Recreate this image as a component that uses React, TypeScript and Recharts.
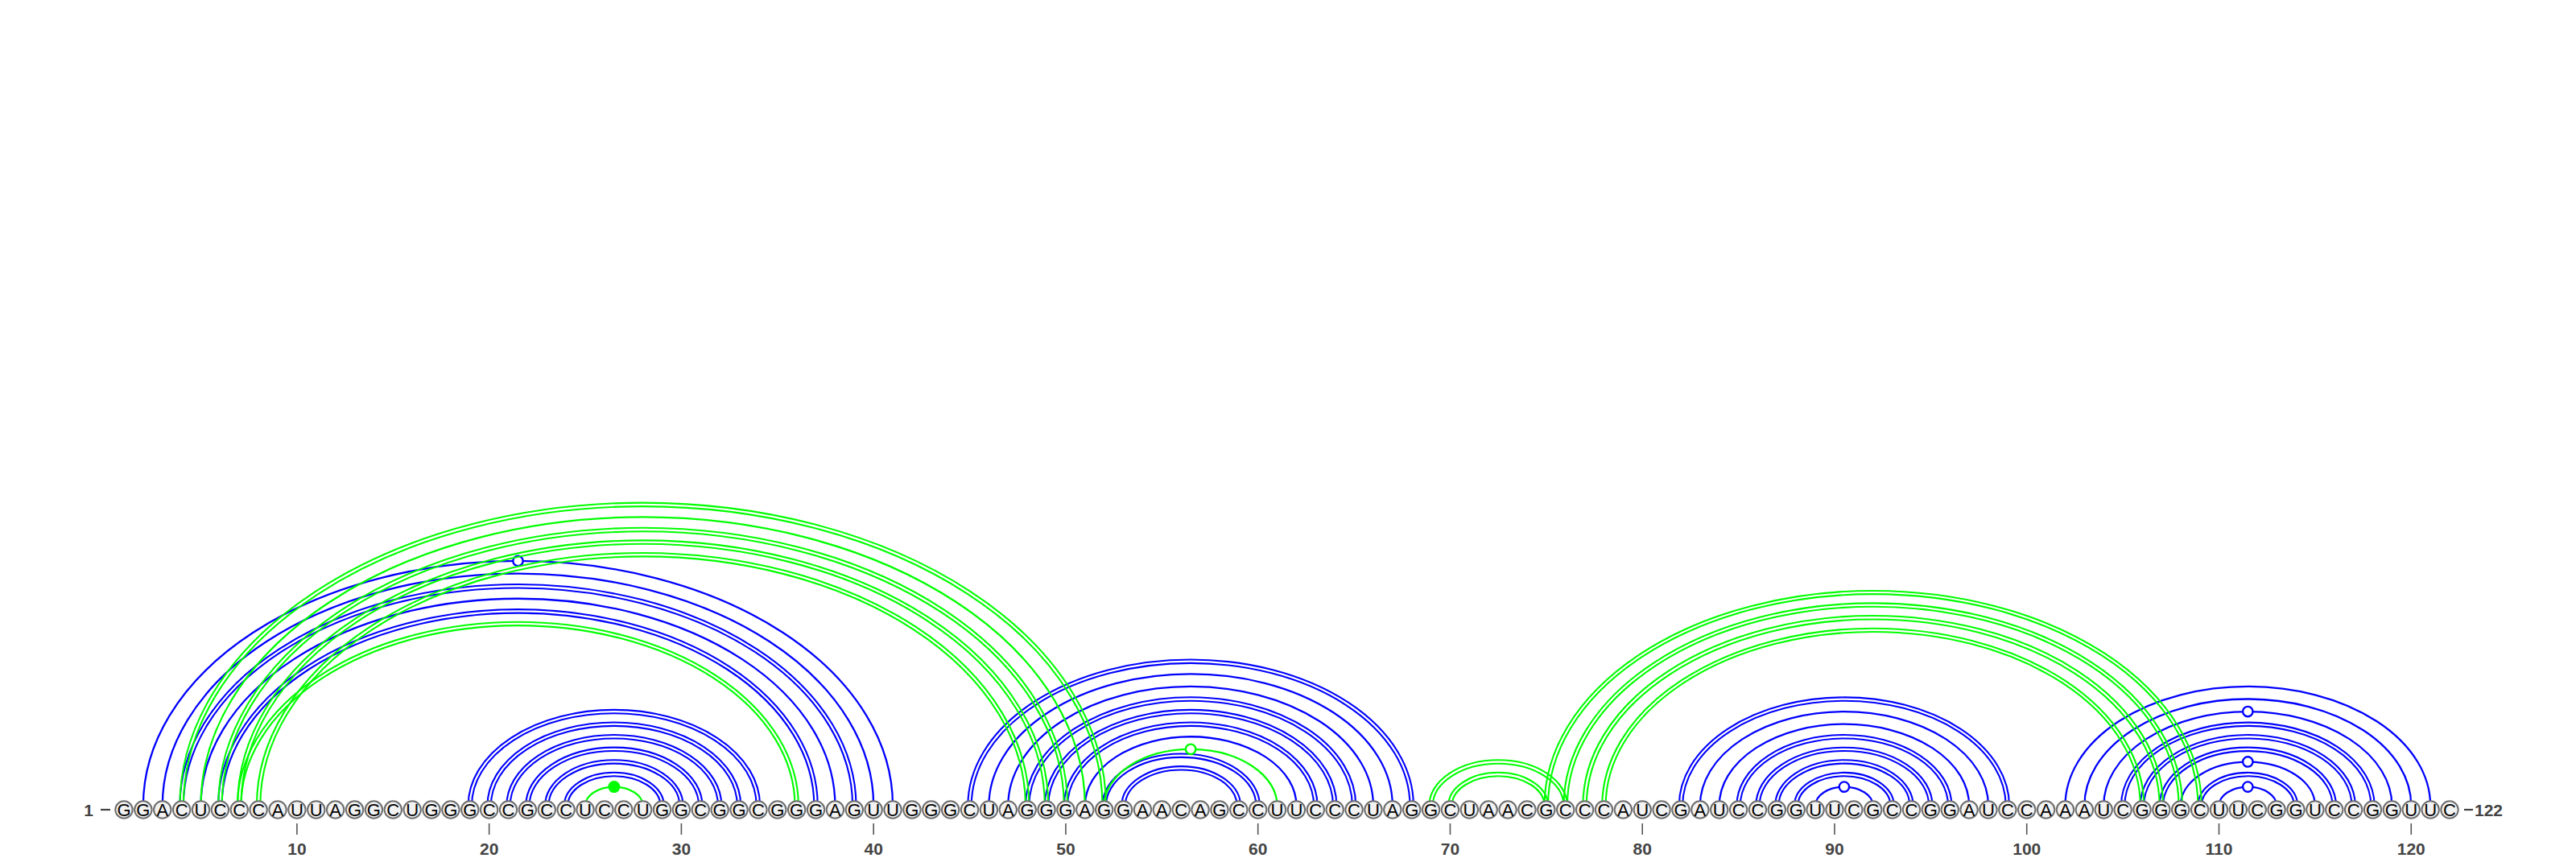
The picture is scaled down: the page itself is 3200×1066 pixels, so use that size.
import React from "react";
import { ComposedChart, XAxis, YAxis, Scatter, ReferenceArea } from "recharts";

// sequence, 1-based positions along the x axis
const SEQUENCE =
  "GGACUCCCAUUAGGCUGGGCCGCCUCCUGGCGGCGGGAGUUGGGCUAGGGAGGAACAGCCUUCCCUAGGCUAACGCCCAUCGAUCCGGUUCGCCGGAUCCAAAUCGGGCUUCGGUCCGGUUC".split("");

// base pairs (i, j) of the two structures
const BLUE_PAIRS: [number, number][] = [
  [2, 41], [3, 40], [4, 39], [5, 38], [6, 37],
  [19, 34], [20, 33], [21, 32], [22, 31], [23, 30], [24, 29],
  [45, 68], [46, 67], [47, 66], [48, 65], [49, 64], [50, 63], [51, 62], [52, 60], [53, 59],
  [82, 99], [83, 98], [84, 97], [85, 96], [86, 95], [87, 94], [88, 93], [89, 92],
  [102, 121], [103, 120], [104, 119], [105, 118], [106, 117], [107, 116], [108, 115], [109, 114], [110, 113],
];

const GREEN_PAIRS: [number, number][] = [
  [4, 52], [5, 51], [6, 50], [7, 49], [8, 48], [7, 36],
  [25, 28], [52, 61],
  [69, 76], [70, 75],
  [75, 109], [76, 108], [77, 107], [78, 106],
];

const NUMBER_TICKS = [10, 20, 30, 40, 50, 60, 70, 80, 90, 100, 110, 120];

const NUCS = SEQUENCE.map((base, k) => ({ pos: k + 1, base, y: 0 }));

const BLUE = "#0000ff";
const GREEN = "#00ff00";
const FONT = "'Liberation Sans', Arial, Helvetica, sans-serif";
const ASPECT = 0.653; // arc height / half width
const ARC_LIFT = 5;

function pairKind(i: number, j: number) {
  const k = SEQUENCE[i - 1] + SEQUENCE[j - 1];
  if (k === "GC" || k === "CG") return "gc";
  if (k === "AU" || k === "UA") return "au";
  if (k === "GU" || k === "UG") return "gu";
  return "nc";
}

function arcShape(color: string, kind: string) {
  return (p: any) => {
    const x1 = p.x;
    const x2 = p.x + p.width;
    const base = p.y + p.height - ARC_LIFT;
    const rx = p.width / 2;
    const ry = rx * ASPECT;
    const mid = x1 + rx;
    const path = (d: number) =>
      `M${x1 - d},${base} A${rx + d},${ry + d} 0 0 1 ${x2 + d},${base}`;
    return (
      <g>
        {kind === "gc" ? (
          <>
            <path d={path(2.2)} fill="none" stroke={color} strokeWidth={2.1} />
            <path d={path(-2.2)} fill="none" stroke={color} strokeWidth={2.1} />
          </>
        ) : (
          <path d={path(0)} fill="none" stroke={color} strokeWidth={2.3} />
        )}
        {kind === "gu" && (
          <circle cx={mid} cy={base - ry} r={6.2} fill="#fff" stroke={color} strokeWidth={2.4} />
        )}
        {kind === "nc" && <circle cx={mid} cy={base - ry} r={7.5} fill={color} />}
      </g>
    );
  };
}

const renderNuc = (p: any) => {
  const { cx, cy, payload } = p;
  const last = payload.pos === SEQUENCE.length;
  return (
    <g>
      <circle cx={cx} cy={cy} r={10.7} fill="#f2f2f2" stroke="#6e6e6e" strokeWidth={2} />
      <text x={cx} y={cy + 7.8} textAnchor="middle" fontFamily={FONT} fontSize={22} fill="#000">
        {payload.base}
      </text>
      {payload.pos === 1 && (
        <>
          <line x1={cx - 29} x2={cx - 17} y1={cy} y2={cy} stroke="#444" strokeWidth={2.2} />
          <text x={cx - 38} y={cy + 7.5} textAnchor="end" fontFamily={FONT} fontSize={21} fontWeight="bold" fill="#444">
            {payload.pos}
          </text>
        </>
      )}
      {last && (
        <>
          <line x1={cx + 18} x2={cx + 29} y1={cy} y2={cy} stroke="#444" strokeWidth={2.2} />
          <text x={cx + 31} y={cy + 7.5} textAnchor="start" fontFamily={FONT} fontSize={21} fontWeight="bold" fill="#444">
            {payload.pos}
          </text>
        </>
      )}
    </g>
  );
};

const renderNumTick = (p: any) => {
  const { x, y, payload } = p;
  return (
    <g>
      <line x1={x} x2={x} y1={y + 17} y2={y + 31} stroke="#555" strokeWidth={1.6} />
      <text x={x} y={y + 56} textAnchor="middle" fontFamily={FONT} fontSize={21} fontWeight="bold" fill="#444">
        {payload.value}
      </text>
    </g>
  );
};

export default function App() {
  return (
    <div style={{ position: "absolute", left: 0, top: 0, width: 3200, height: 1066, background: "#fff" }}>
      <ComposedChart
        width={3200}
        height={1066}
        data={NUCS}
        margin={{ top: 0, right: 157, bottom: 0, left: 154 }}
      >
        <XAxis
          dataKey="pos"
          type="number"
          domain={[1, SEQUENCE.length]}
          ticks={NUMBER_TICKS}
          interval={0}
          height={60}
          axisLine={false}
          tickLine={false}
          tickSize={0}
          tickMargin={0}
          tick={renderNumTick}
        />
        <YAxis dataKey="y" type="number" domain={[0, 100]} hide />
        {BLUE_PAIRS.map(([i, j]) => (
          <ReferenceArea
            key={`b${i}-${j}`}
            x1={i}
            x2={j}
            y1={0}
            y2={100}
            shape={arcShape(BLUE, pairKind(i, j))}
          />
        ))}
        {GREEN_PAIRS.map(([i, j]) => (
          <ReferenceArea
            key={`g${i}-${j}`}
            x1={i}
            x2={j}
            y1={0}
            y2={100}
            shape={arcShape(GREEN, pairKind(i, j))}
          />
        ))}
        <Scatter dataKey="y" shape={renderNuc} isAnimationActive={false} />
      </ComposedChart>
    </div>
  );
}
